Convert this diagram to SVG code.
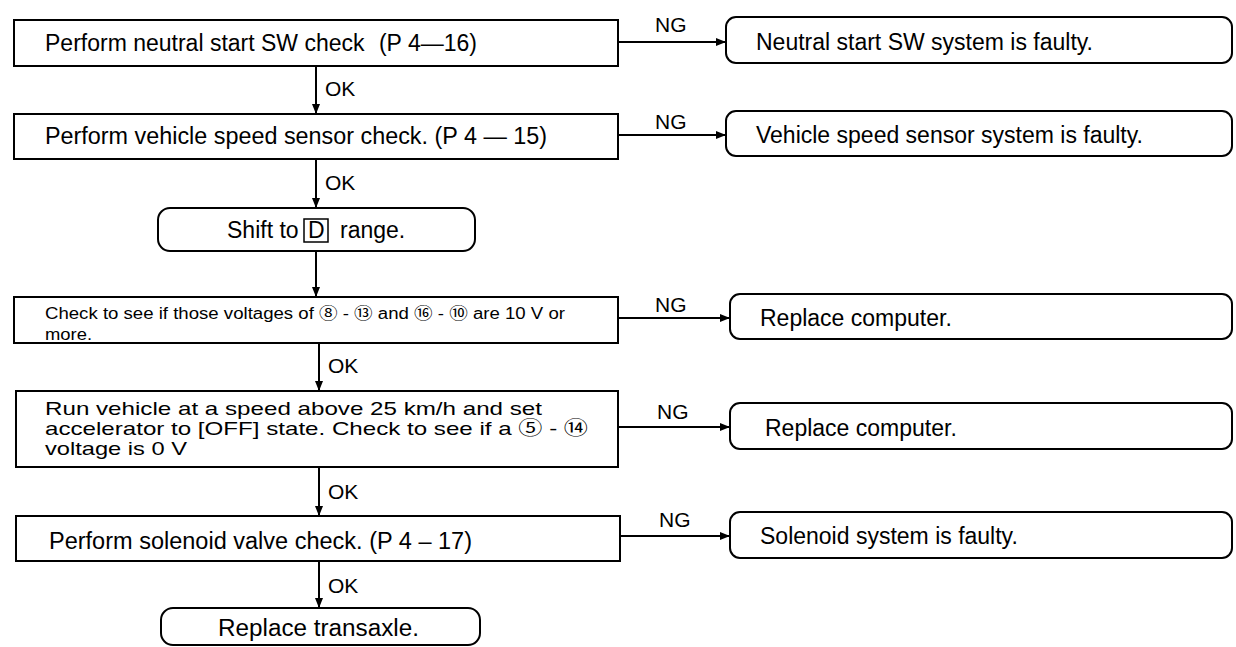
<svg xmlns="http://www.w3.org/2000/svg" width="1236" height="647" viewBox="0 0 1236 647">
<defs>
<style>
.box{fill:#fff;stroke:#000;stroke-width:2}
.t{font-family:"Liberation Sans","Noto Sans CJK JP","DejaVu Sans",Arial,sans-serif;font-size:23px;fill:#000}
.s{font-size:16px}
.m{font-size:19px}
.lbl{font-family:"Liberation Sans","DejaVu Sans",Arial,sans-serif;font-size:21px;fill:#000}
.c{fill:none;stroke:#000;stroke-width:2}
</style>
<marker id="ah" markerUnits="userSpaceOnUse" markerWidth="10" markerHeight="8" refX="10" refY="4" orient="auto">
<path d="M0,0 L10,4 L0,8 z" fill="#000"/>
</marker>
</defs>
<rect width="1236" height="647" fill="#fff"/>

<g id="connectors">
<line class="c" x1="316" y1="66" x2="316" y2="114" marker-end="url(#ah)"/>
<line class="c" x1="316" y1="159" x2="316" y2="208" marker-end="url(#ah)"/>
<line class="c" x1="316" y1="251" x2="316" y2="297" marker-end="url(#ah)"/>
<line class="c" x1="319" y1="343" x2="319" y2="391" marker-end="url(#ah)"/>
<line class="c" x1="319" y1="467" x2="319" y2="516" marker-end="url(#ah)"/>
<line class="c" x1="319" y1="561" x2="319" y2="608" marker-end="url(#ah)"/>
<line class="c" x1="618" y1="42" x2="726" y2="42" marker-end="url(#ah)"/>
<line class="c" x1="618" y1="135" x2="726" y2="135" marker-end="url(#ah)"/>
<line class="c" x1="618" y1="318" x2="730" y2="318" marker-end="url(#ah)"/>
<line class="c" x1="618" y1="427" x2="730" y2="427" marker-end="url(#ah)"/>
<line class="c" x1="620" y1="536" x2="730" y2="536" marker-end="url(#ah)"/>
<text class="lbl" x="325" y="96">OK</text>
<text class="lbl" x="325" y="190">OK</text>
<text class="lbl" x="328" y="373">OK</text>
<text class="lbl" x="328" y="499">OK</text>
<text class="lbl" x="328" y="593">OK</text>
<text class="lbl" x="655" y="32">NG</text>
<text class="lbl" x="655" y="129">NG</text>
<text class="lbl" x="655" y="312">NG</text>
<text class="lbl" x="657" y="419">NG</text>
<text class="lbl" x="659" y="527">NG</text>
</g>

<g id="n1">
<rect class="box" x="14" y="20" width="604" height="46"/>
<text class="t" x="45" y="51">Perform neutral start SW check <tspan dx="8">(P 4—16)</tspan></text>
</g>
<g id="n1ng">
<rect class="box" x="726" y="17" width="506" height="46" rx="10"/>
<text class="t" x="756" y="50">Neutral start SW system is faulty.</text>
</g>

<g id="n2">
<rect class="box" x="14" y="114" width="604" height="45"/>
<text class="t" x="45" y="144" textLength="502" lengthAdjust="spacingAndGlyphs">Perform vehicle speed sensor check. (P 4 — 15)</text>
</g>
<g id="n2ng">
<rect class="box" x="726" y="111" width="506" height="45" rx="10"/>
<text class="t" x="756" y="143">Vehicle speed sensor system is faulty.</text>
</g>

<g id="n3">
<rect class="box" x="158" y="208" width="317" height="43" rx="12"/>
<rect x="304" y="219" width="24" height="23" fill="none" stroke="#000" stroke-width="1.5"/>
<text class="t" x="227" y="238">Shift to <tspan dx="3">D</tspan><tspan dx="9"> range.</tspan></text>
</g>

<g id="n4">
<rect class="box" x="14" y="297" width="604" height="46"/>
<text class="t s" x="45" y="319" textLength="520" lengthAdjust="spacingAndGlyphs">Check to see if those voltages of ⑧ - ⑬ and ⑯ - ⑩ are 10 V or</text>
<text class="t s" x="45" y="340" textLength="47" lengthAdjust="spacingAndGlyphs">more.</text>
</g>
<g id="n4ng">
<rect class="box" x="730" y="294" width="502" height="45" rx="10"/>
<text class="t" x="760" y="326">Replace computer.</text>
</g>

<g id="n5">
<rect class="box" x="16" y="391" width="602" height="76"/>
<text class="t m" x="45" y="415" textLength="497" lengthAdjust="spacingAndGlyphs">Run vehicle at a speed above 25 km/h and set</text>
<text class="t m" x="45" y="435" textLength="543" lengthAdjust="spacingAndGlyphs">accelerator to [OFF] state. Check to see if a ⑤ - ⑭</text>
<text class="t m" x="45" y="455" textLength="142" lengthAdjust="spacingAndGlyphs">voltage is 0 V</text>
</g>
<g id="n5ng">
<rect class="box" x="730" y="403" width="502" height="46" rx="10"/>
<text class="t" x="765" y="436">Replace computer.</text>
</g>

<g id="n6">
<rect class="box" x="16" y="516" width="604" height="45"/>
<text class="t" x="49" y="549" textLength="423" lengthAdjust="spacingAndGlyphs">Perform solenoid valve check. (P 4 – 17)</text>
</g>
<g id="n6ng">
<rect class="box" x="730" y="512" width="502" height="46" rx="10"/>
<text class="t" x="760" y="544">Solenoid system is faulty.</text>
</g>

<g id="n7">
<rect class="box" x="161" y="608" width="319" height="37" rx="12"/>
<text class="t" x="218" y="636" textLength="201" lengthAdjust="spacingAndGlyphs">Replace transaxle.</text>
</g>
</svg>
